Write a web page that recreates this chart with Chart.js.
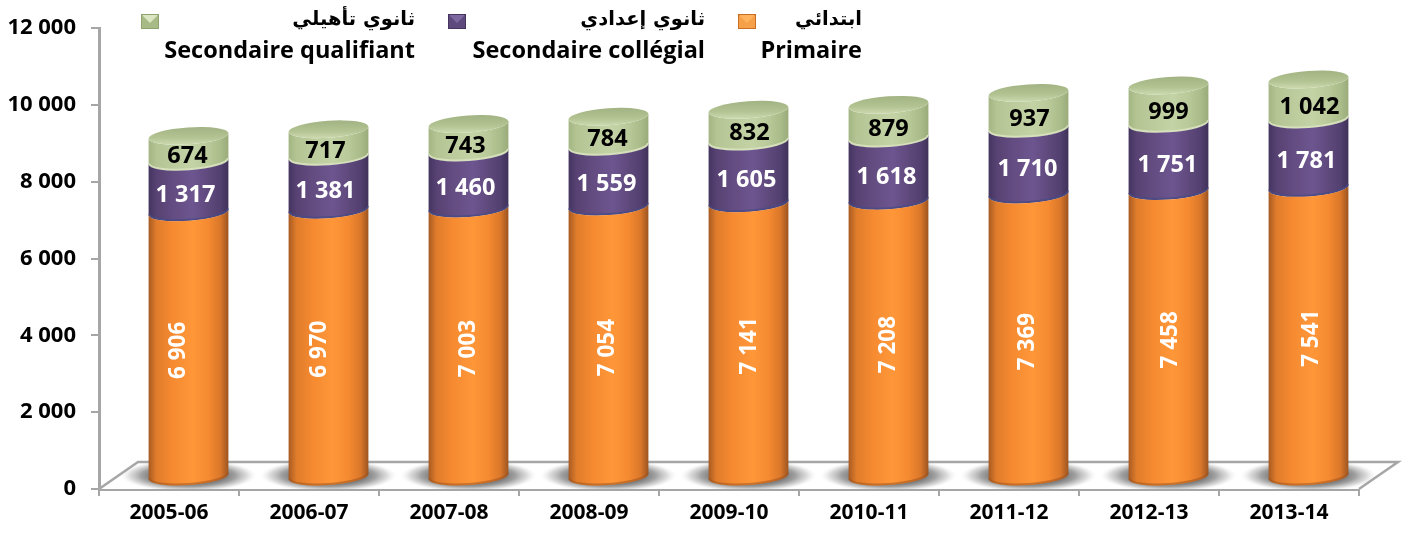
<!DOCTYPE html>
<html><head><meta charset="utf-8">
<style>html,body{margin:0;padding:0;background:#fff}canvas{display:block}</style>
<script src="https://cdn.jsdelivr.net/npm/chart.js@4"></script></head>
<body><div style="width:1404px;height:534px"><canvas id="c" width="1404" height="534"></canvas></div>
<script>
const categories=['2005-06','2006-07','2007-08','2008-09','2009-10','2010-11','2011-12','2012-13','2013-14'];
const primaire=[6906,6970,7003,7054,7141,7208,7369,7458,7541];
const college=[1317,1381,1460,1559,1605,1618,1710,1751,1781];
const qualifiant=[674,717,743,784,832,879,937,999,1042];
const yTicks=[0,2000,4000,6000,8000,10000,12000];
const namesFr=['Primaire','Secondaire collégial','Secondaire qualifiant'];
const namesAr=['ابتدائي','ثانوي إعدادي','ثانوي تأهيلي'];

const LATIN='"Open Sans", Lato, sans-serif';
const GREY='#a6a6a6';
const fmt=v=>String(v).replace(/\B(?=(\d{3})+$)/g,' ');
const DEPTH={x:39,y:-27}, OFF={x:19.5,y:-11.5};
const RY=8.5, ROT=-4*Math.PI/180;
const SHADES=[
 {stops:['#a75a22','#e07c2b','#f58a31','#ff9739','#f58a31','#d9772a','#9c5420'],rim:'rgba(160,84,30,.55)',txt:'#fff'},
 {stops:['#43345f','#574273','#634c80','#6d5590','#5f497c','#524070','#3f3159'],rim:'rgba(70,75,135,.8)',txt:'#fff'},
 {stops:['#a3b583','#b4c493','#bccb9c','#c4d3a5','#b9c999','#aabc89','#98ab78'],rim:'rgba(215,226,190,.95)',txt:'#000'}];
const LABEL_NUDGE_X=[[-10,-9,0,-1,1,0,-1,2,3],[-3,-3,-3,-2,-2,-2,-1,-1,-2],[-1,-3,-3,-1,1,0,1,0,1]];
const LABEL_DY=[6,8,8];
const LABEL_SIZE=[22.5,23.5,23.5];

function hGrad(ctx,x0,x1,stops){const g=ctx.createLinearGradient(x0,0,x1,0);
 const p=[0,.1,.3,.55,.75,.9,1];stops.forEach((s,i)=>g.addColorStop(p[i],s));return g;}

const cylinders={id:'cylinders',
 beforeDatasetsDraw(chart){
  const {ctx,chartArea:a}=chart;
  ctx.save();
  ctx.beginPath();ctx.moveTo(a.left,a.bottom);ctx.lineTo(a.left+DEPTH.x,a.bottom+DEPTH.y);
  ctx.lineTo(a.right+DEPTH.x,a.bottom+DEPTH.y);ctx.lineTo(a.right,a.bottom);ctx.closePath();
  ctx.save();ctx.clip();
  ctx.fillStyle='#fff';ctx.fillRect(a.left,a.bottom+DEPTH.y,a.width+DEPTH.x,-DEPTH.y);
  chart.getDatasetMeta(0).data.forEach(el=>{
   const cx=el.x+OFF.x, cy=a.bottom+OFF.y-2;
   ctx.save();ctx.translate(cx,cy);ctx.scale(1,.24);
   const g=ctx.createRadialGradient(0,0,36,0,0,68);
   g.addColorStop(0,'rgba(95,95,95,.85)');g.addColorStop(.35,'rgba(130,130,130,.75)');g.addColorStop(.7,'rgba(190,190,190,.55)');g.addColorStop(1,'rgba(235,235,235,0)');
   ctx.fillStyle=g;ctx.beginPath();ctx.arc(0,0,68,0,Math.PI*2);ctx.fill();ctx.restore();
  });
  ctx.restore();
  ctx.strokeStyle=GREY;ctx.lineWidth=2.5;
  ctx.beginPath();ctx.moveTo(a.left,a.bottom);ctx.lineTo(a.left+DEPTH.x,a.bottom+DEPTH.y);
  ctx.lineTo(a.right+DEPTH.x,a.bottom+DEPTH.y);ctx.lineTo(a.right,a.bottom);ctx.stroke();
  ctx.restore();
 },
 beforeDatasetDraw(chart,args){
  const {ctx}=chart, i=args.index, sh=SHADES[i];
  const n=chart.data.datasets.length;
  args.meta.data.forEach(el=>{
   const cx=el.x+OFF.x, rx=el.width/2, yt=el.y+OFF.y, yb=el.base+OFF.y;
   ctx.save();
   ctx.beginPath();
   ctx.ellipse(cx,yb,rx,RY,ROT,0,Math.PI);
   ctx.ellipse(cx,yt,rx,RY,ROT,Math.PI,0,true);
   ctx.closePath();
   ctx.fillStyle=hGrad(ctx,cx-rx,cx+rx,sh.stops);ctx.fill();
   ctx.beginPath();ctx.ellipse(cx,yb-1,rx-.5,RY,ROT,0,Math.PI);
   ctx.strokeStyle=sh.rim;ctx.lineWidth=2;ctx.stroke();
   if(i===n-1){
    const g=ctx.createLinearGradient(0,yt-RY,0,yt+RY);
    g.addColorStop(0,'#a3b484');g.addColorStop(.6,'#b3c392');g.addColorStop(1,'#cbd8ae');
    ctx.beginPath();ctx.ellipse(cx,yt,rx,RY,ROT,0,Math.PI*2);ctx.fillStyle=g;ctx.fill();
   }
   ctx.restore();
  });
  return false;
 },
 afterDatasetsDraw(chart){
  const {ctx}=chart;
  chart.data.datasets.forEach((ds,i)=>{
   chart.getDatasetMeta(i).data.forEach((el,j)=>{
    const x=el.x+OFF.x+LABEL_NUDGE_X[i][j], y=(el.y+el.base)/2+OFF.y+LABEL_DY[i];
    ctx.save();ctx.translate(x,y);if(i===0)ctx.rotate(-Math.PI/2);
    ctx.fillStyle=SHADES[i].txt;ctx.font='bold '+LABEL_SIZE[i]+'px '+LATIN;ctx.textAlign='center';ctx.textBaseline='middle';
    ctx.fillText(fmt(ds.data[j]),0,0);ctx.restore();
   });
  });
  // legend
  const slots=[{mx:738,right:862},{mx:448,right:705},{mx:141,right:415}];
  const mk=[['#f7a04a','#c96d22','#ffb35e'],['#5f4a7e','#46365f','#7d68a0'],['#a8ba86','#8ea36e','#dbe6c2']];
  slots.forEach((s,i)=>{
   const [b,d,l]=mk[i];
   ctx.save();
   ctx.fillStyle=d;ctx.fillRect(s.mx,14,18,15);
   ctx.fillStyle=b;ctx.fillRect(s.mx+1,16,16,12);
   ctx.fillStyle=l;ctx.beginPath();ctx.moveTo(s.mx+1,15);ctx.lineTo(s.mx+17,15);ctx.lineTo(s.mx+9,23);ctx.closePath();ctx.fill();
   ctx.fillStyle='#000';ctx.textBaseline='middle';
   ctx.font='bold 19.5px "DejaVu Sans", sans-serif';ctx.direction='rtl';ctx.textAlign='right';
   ctx.fillText(namesAr[i],s.right,20);
   ctx.direction='ltr';ctx.textAlign='right';
   ctx.font='bold 23.5px '+LATIN;ctx.fillText(namesFr[i],s.right,51);
   ctx.restore();
  });
 }};

new Chart(document.getElementById('c'),{type:'bar',plugins:[cylinders],
 data:{labels:categories,datasets:[
  {label:namesFr[0],data:primaire,backgroundColor:'#f58a31'},
  {label:namesFr[1],data:college,backgroundColor:'#5f497c'},
  {label:namesFr[2],data:qualifiant,backgroundColor:'#b9c999'}]},
 options:{responsive:false,animation:false,
  layout:{padding:{top:28,right:45,left:0,bottom:0}},
  plugins:{legend:{display:false},tooltip:{enabled:false},title:{display:false}},
  datasets:{bar:{barPercentage:80/140,categoryPercentage:1}},
  scales:{
   x:{stacked:true,afterFit:s=>{s.height=45},
    grid:{offset:true,drawOnChartArea:false,color:GREY,lineWidth:2,tickLength:7},
    border:{color:GREY,width:3},
    ticks:{color:'#000',font:{family:LATIN,weight:'bold',size:21},padding:4,maxRotation:0,autoSkip:false}},
   y:{stacked:true,min:0,max:12000,afterFit:s=>{s.width=99},
    afterBuildTicks:s=>{s.ticks=yTicks.map(v=>({value:v}))},
    grid:{drawOnChartArea:false,color:GREY,lineWidth:2,tickLength:8},
    border:{color:GREY,width:3},
    ticks:{color:'#000',font:{family:LATIN,weight:'bold',size:22},padding:15,callback:v=>fmt(v)}}
  }}});
</script></body></html>
